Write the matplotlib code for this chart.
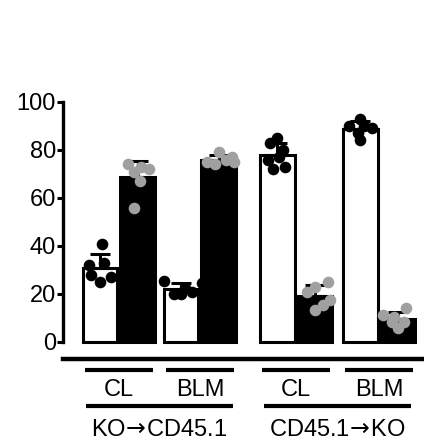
import matplotlib
matplotlib.use('Agg')
import matplotlib.pyplot as plt
import matplotlib.transforms as mtransforms
import numpy as np

plt.rcParams['font.family'] = ['Liberation Sans', 'DejaVu Sans']

# values (percent)
groups = [r'KO$\!\rightarrow\!$CD45.1', r'CD45.1$\!\rightarrow\!$KO']
conditions = ['CL', 'BLM']
white_pts = [
    [41, 32, 28, 25, 27, 33],      # KO->CD45.1 CL
    [25.5, 20, 21, 24.5, 22.5, 20],  # KO->CD45.1 BLM
    [85, 83, 80, 77, 73, 72, 76],  # CD45.1->KO CL
    [93, 90, 89, 90, 87, 84],      # CD45.1->KO BLM
]
black_pts = [
    [74, 73, 72, 67, 71, 56],
    [79, 75, 74, 76, 75, 77],
    [23, 25, 17.5, 15.5, 13.5, 21],
    [11.3, 14, 10.4, 8.3, 8.3, 5.8],
]

# layout
pair_x = [0, 2.15, 4.7, 6.9]
jit_w = [[0.05, -0.3, -0.25, 0.0, 0.3, 0.1],
         [-0.45, 0.0, 0.3, 0.55, 0.1, -0.2],
         [0.0, -0.2, 0.15, 0.05, 0.2, -0.1, -0.25],
         [0.0, -0.3, 0.3, 0.1, -0.05, 0.0]]
jit_b = [[-0.25, 0.1, 0.3, 0.05, -0.1, -0.1],
         [0.0, -0.3, -0.1, 0.2, 0.4, 0.35],
         [0.0, 0.35, 0.4, 0.2, 0.0, -0.2],
         [-0.4, 0.2, -0.1, 0.15, -0.15, 0.0]]
bw = 0.92
grey = '#a0a0a0'

fig = plt.figure(figsize=(4.24, 4.41), dpi=100)
ax = fig.add_axes([63 / 424, 1 - 359 / 441, 1 - 63 / 424, 257 / 441])

for i, px in enumerate(pair_x):
    for off, pts, fc, dc in [(0, white_pts[i], 'white', 'black'),
                             (1, black_pts[i], 'black', grey)]:
        x = px + off
        m = np.mean(pts)
        sd = np.std(pts, ddof=1)
        ax.bar(x, m, width=bw, color=fc, edgecolor='black', linewidth=2.2, zorder=2)
        ax.errorbar(x, m, yerr=[[0], [sd]], fmt='none', ecolor='black',
                    elinewidth=2.2, capsize=7, capthick=2.2, zorder=3)
        jit = jit_w[i] if off == 0 else jit_b[i]
        ax.scatter(x + np.array(jit), pts, s=70, color=dc, zorder=4, linewidths=0)

ax.set_xlim(-0.98, 8.59)
ax.set_ylim(-7.1, 100)
ax.set_yticks([0, 20, 40, 60, 80, 100])
ax.tick_params(axis='y', labelsize=17, width=2.2, length=4, pad=1)
ax.tick_params(axis='x', bottom=False, labelbottom=False)
for s in ['top', 'right']:
    ax.spines[s].set_visible(False)
ax.spines['left'].set_bounds(0, 100)
ax.spines['left'].set_linewidth(2.4)
ax.spines['bottom'].set_linewidth(3.2)

tr = mtransforms.blended_transform_factory(ax.transData, fig.transFigure)
for i, px in enumerate(pair_x):
    c = px + 0.5
    ax.plot([c - 0.9, c + 0.9], [1 - 370 / 441] * 2, color='black', lw=3,
            transform=tr, clip_on=False, solid_capstyle='butt')
    ax.text(c, 1 - 390 / 441, conditions[i % 2], transform=tr, ha='center',
            va='center', fontsize=17)
for g in range(2):
    c = (pair_x[2 * g] + pair_x[2 * g + 1] + 1) / 2
    ax.plot([c - 1.95, c + 1.95], [1 - 406 / 441] * 2, color='black', lw=3,
            transform=tr, clip_on=False, solid_capstyle='butt')
    ax.text(c, 1 - 430 / 441, groups[g], transform=tr, ha='center',
            va='center', fontsize=17)

fig.savefig('out.png', dpi=100)
